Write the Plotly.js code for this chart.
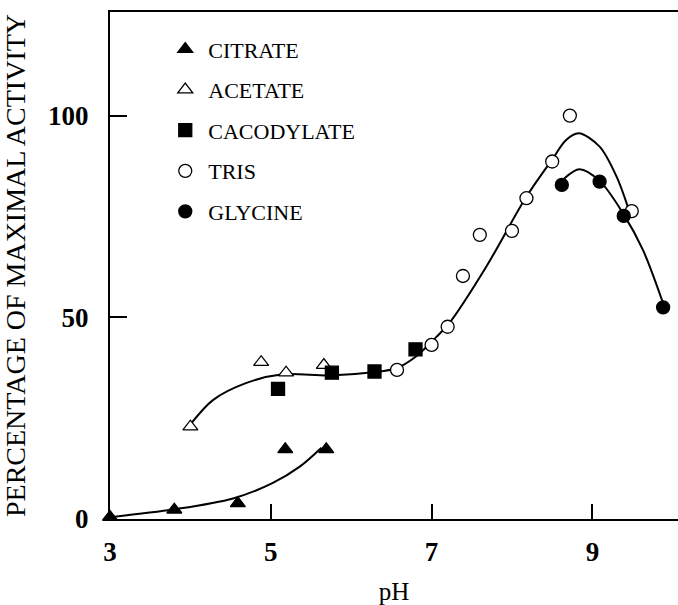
<!DOCTYPE html>
<html>
<head>
<meta charset="utf-8">
<script src="https://cdn.plot.ly/plotly-3.0.1.min.js"></script>
<style>html,body{margin:0;padding:0;background:#fff;}#chart{width:678px;height:605px;}</style>
</head>
<body>
<div id="chart"></div>
<script>
// Data points
var citrateX = [3.0, 3.8, 4.59, 5.18, 5.69];
var citrateY = [0.5, 2.3, 3.9, 17.3, 17.3];
var acetateX = [4.0, 4.88, 5.19, 5.66];
var acetateY = [22.9, 38.9, 36.3, 38.2];
var cacodylateX = [5.09, 5.76, 6.29, 6.80];
var cacodylateY = [32.3, 36.3, 36.6, 42.1];
var trisX = [6.57, 7.0, 7.20, 7.39, 7.60, 8.0, 8.18, 8.50, 8.72, 9.49];
var trisY = [37.0, 43.2, 47.7, 60.3, 70.5, 71.5, 79.6, 88.7, 100.1, 76.4];
var glycineX = [8.62, 9.09, 9.39, 9.88];
var glycineY = [82.9, 83.7, 75.2, 52.5];

// Hand-drawn fitted curves, sampled from the figure
var citrateCurveX = [3.03, 3.8, 4.53, 5.02, 5.36, 5.63];
var citrateCurveY = [0.5, 2.4, 5.1, 8.9, 13.0, 17.7];
var mainCurveX = [4.01, 4.28, 4.69, 5.15, 5.73, 6.27, 6.56, 6.81, 7.06, 7.22, 7.68, 8.18, 8.51, 8.67, 8.83, 9.09, 9.30, 9.44];
var mainCurveY = [23.7, 29.5, 33.7, 35.9, 35.6, 36.4, 37.4, 40.4, 45.2, 48.6, 62.6, 80.0, 89.5, 94.0, 95.7, 92.4, 85.0, 77.5];
var glyCurveX = [8.65, 8.84, 9.09, 9.38, 9.63, 9.88];
var glyCurveY = [84.5, 86.8, 83.9, 75.9, 66.7, 53.5];

var xTicks = [3, 5, 7, 9];
var xTickText = ['3', '5', '7', '9'];
var yTicks = [0, 50, 100];
var yTickText = ['0', '50', '100'];

var serif = 'Liberation Serif, Times New Roman, serif';

function curve(x, y) {
  return {x: x, y: y, mode: 'lines', type: 'scatter', showlegend: false, hoverinfo: 'skip',
    line: {color: '#000', width: 2, shape: 'spline', smoothing: 0.9}};
}
function pts(x, y, name, symbol, fill, group) {
  return {x: x, y: y, mode: 'markers', type: 'scatter', name: name, legendgroup: group, cliponaxis: false,
    marker: {symbol: symbol, size: 13, color: fill, line: {color: '#000', width: 1.3}}};
}

var data = [
  curve(citrateCurveX, citrateCurveY),
  curve(mainCurveX, mainCurveY),
  curve(glyCurveX, glyCurveY),
  pts(citrateX, citrateY, 'CITRATE', 'triangle-up', '#000', 'g1'),
  pts(acetateX, acetateY, 'ACETATE', 'triangle-up', '#fff', 'g2'),
  pts(cacodylateX, cacodylateY, 'CACODYLATE', 'square', '#000', 'g3'),
  pts(trisX, trisY, 'TRIS', 'circle', '#fff', 'g4'),
  pts(glycineX, glycineY, 'GLYCINE', 'circle', '#000', 'g5')
];

var layout = {
  width: 678, height: 605,
  margin: {l: 110, r: 0, t: 12, b: 86},
  paper_bgcolor: '#fff', plot_bgcolor: '#fff',
  font: {family: serif, color: '#000'},
  showlegend: true,
  legend: {x: 0.092, y: 0.968, xanchor: 'left', yanchor: 'top', traceorder: 'grouped', tracegroupgap: 9,
    itemwidth: 36, bgcolor: 'rgba(0,0,0,0)', font: {family: serif, size: 22, color: '#000'}},
  xaxis: {range: [3, 10.065], showgrid: false, zeroline: false, showline: true, linecolor: '#000', linewidth: 2,
    mirror: true, ticks: 'inside', ticklen: 15, tickwidth: 2, tickcolor: '#000', ticklabelstandoff: 8,
    tickvals: xTicks, ticktext: xTickText, tickfont: {family: serif, size: 27, color: '#000', weight: 'bold'},
    title: {text: 'pH', font: {family: serif, size: 25, color: '#000'}, standoff: 20}},
  yaxis: {range: [0, 125.8], showgrid: false, zeroline: false, showline: true, linecolor: '#000', linewidth: 2,
    ticks: 'inside', ticklen: 17, tickwidth: 2, tickcolor: '#000', ticklabelstandoff: 14,
    tickvals: yTicks, ticktext: yTickText, tickfont: {family: serif, size: 27, color: '#000', weight: 'bold'},
    title: {text: 'PERCENTAGE OF MAXIMAL ACTIVITY', font: {family: serif, size: 28, color: '#000'}, standoff: 14}}
};

Plotly.newPlot('chart', data, layout, {displayModeBar: false, staticPlot: true});
</script>
</body>
</html>
